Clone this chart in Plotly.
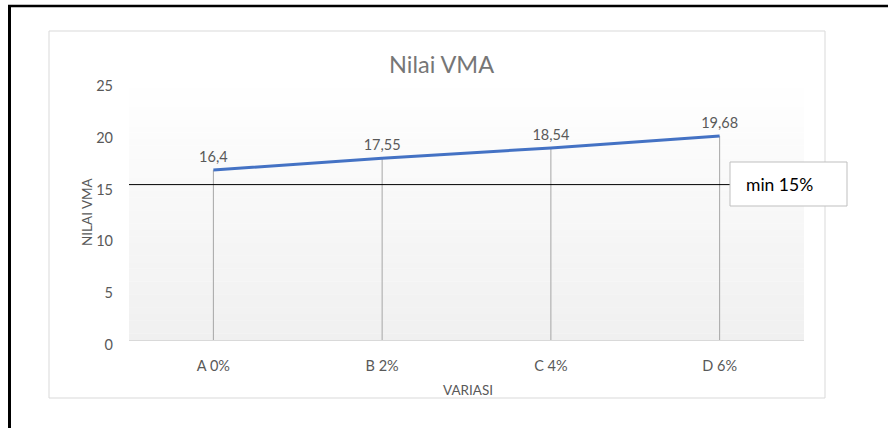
import plotly.graph_objects as go

categories = ["A 0%", "B 2%", "C 4%", "D 6%"]
vma_values = [16.4, 17.55, 18.54, 19.68]
min_limit = 15
y_ticks = [0, 5, 10, 15, 20, 25]
title_text = "Nilai VMA"
y_title = "NILAI VMA"
x_title = "VARIASI"
limit_label = "min 15%"

W, H = 888, 428
L, R, T, B = 129, 804, 81, 340
pw, ph = R - L, B - T


def px_x(p):
    return (p - L) / pw


def px_y(p):
    return (B - p) / ph


FONT = "Lato, 'Open Sans', sans-serif"
GRAY = "#595959"
FS = 14.5

fig = go.Figure()

# drop lines from each point to the axis
dx, dy = [], []
for c, v in zip(categories, vma_values):
    dx += [c, c, None]
    dy += [0, v, None]
fig.add_trace(go.Scatter(x=dx, y=dy, mode="lines",
                         line=dict(color="#a6a6a6", width=1),
                         hoverinfo="skip", showlegend=False))

fig.add_trace(go.Scatter(
    x=categories, y=vma_values, mode="lines+markers+text",
    line=dict(color="#4472C4", width=3),
    marker=dict(size=6, color="rgba(0,0,0,0)"),
    text=[f"{v:g}".replace(".", ",") for v in vma_values],
    textposition="top center",
    textfont=dict(family=FONT, size=FS, color=GRAY),
    showlegend=False,
))

shapes = []
# gradient plot background
n = 40
for i in range(n):
    t0, t1 = i / n, (i + 1) / n
    f = 1 - (t0 + t1) / 2  # 0 at top, 1 at bottom
    c = int(round(255 - f * 15))
    shapes.append(dict(type="rect", xref="paper", yref="paper",
                       x0=0, x1=1, y0=t0, y1=t1 + 0.001,
                       fillcolor=f"rgb({c},{c},{c})", line=dict(width=0),
                       layer="below"))
# chart area border
shapes.append(dict(type="rect", xref="paper", yref="paper",
                   x0=px_x(49), x1=px_x(825), y0=px_y(398), y1=px_y(31),
                   line=dict(color="#d9d9d9", width=1), layer="below"))
# outer black frame
shapes.append(dict(type="line", xref="paper", yref="paper",
                   x0=px_x(8), x1=px_x(890), y0=px_y(6), y1=px_y(6),
                   line=dict(color="black", width=2.5)))
shapes.append(dict(type="line", xref="paper", yref="paper",
                   x0=px_x(9.5), x1=px_x(9.5), y0=px_y(5), y1=px_y(430),
                   line=dict(color="black", width=3)))
# min limit line
shapes.append(dict(type="line", xref="paper", yref="y",
                   x0=0, x1=px_x(730), y0=min_limit, y1=min_limit,
                   line=dict(color="black", width=1)))
# text box
shapes.append(dict(type="rect", xref="paper", yref="paper",
                   x0=px_x(730), x1=px_x(847), y0=px_y(206), y1=px_y(162),
                   fillcolor="white", line=dict(color="#bfbfbf", width=1)))

annotations = [
    dict(text=limit_label, xref="paper", yref="paper",
         x=px_x(744), y=px_y(184), xanchor="left", yanchor="middle",
         showarrow=False, font=dict(family=FONT, size=17.5, color="black")),
    dict(text=title_text, xref="paper", yref="paper",
         x=px_x(441), y=px_y(64), xanchor="center", yanchor="middle",
         showarrow=False, font=dict(family=FONT, size=23.5, color="#767676")),
    dict(text=y_title, xref="paper", yref="paper",
         x=px_x(87), y=px_y(212), xanchor="center", yanchor="middle",
         textangle=-90, showarrow=False,
         font=dict(family=FONT, size=13.5, color=GRAY)),
    dict(text=x_title, xref="paper", yref="paper",
         x=px_x(468), y=px_y(390), xanchor="center", yanchor="middle",
         showarrow=False, font=dict(family=FONT, size=13.5, color=GRAY)),
]

fig.update_layout(
    width=W, height=H,
    margin=dict(l=L, r=W - R, t=T, b=H - B, pad=0),
    paper_bgcolor="white", plot_bgcolor="rgba(0,0,0,0)",
    shapes=shapes, annotations=annotations,
    font=dict(family=FONT, size=FS, color=GRAY),
    xaxis=dict(type="category", range=[-0.5, 3.5], showgrid=False,
               showline=True, linecolor="#d9d9d9", linewidth=1,
               ticks="", zeroline=False, ticklabelstandoff=13,
               tickfont=dict(family=FONT, size=FS, color=GRAY)),
    yaxis=dict(range=[0, 25], tickvals=y_ticks, showgrid=False,
               showline=False, zeroline=False, ticks="",
               ticklabelstandoff=15, ticklabelshift=5,
               tickfont=dict(family=FONT, size=FS, color=GRAY)),
    showlegend=False,
)

fig.write_html(
    "out.html",
    config={"displayModeBar": False},
    post_script="document.body.style.margin='0';document.body.style.overflow='hidden';",
)
